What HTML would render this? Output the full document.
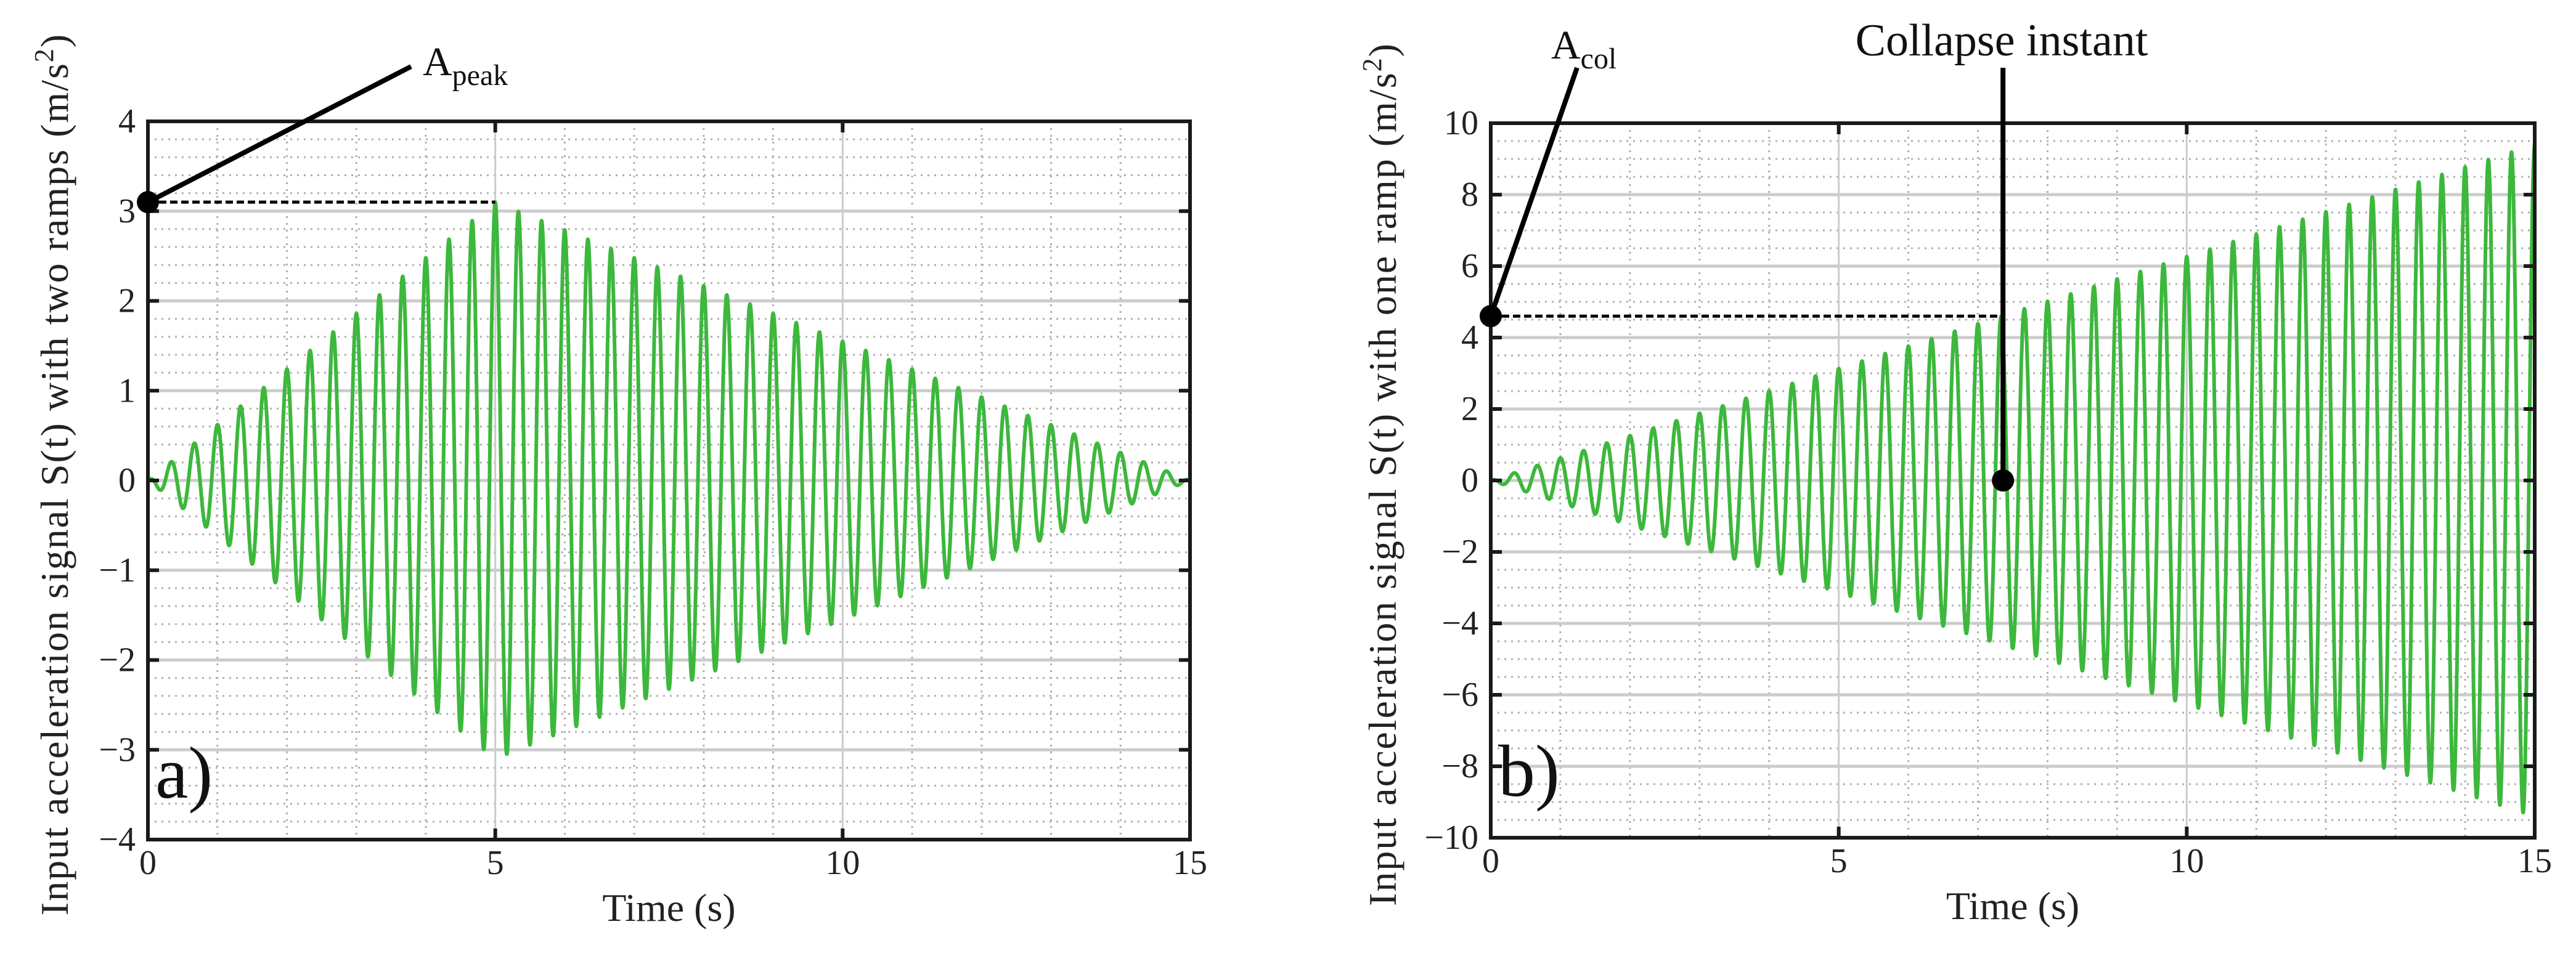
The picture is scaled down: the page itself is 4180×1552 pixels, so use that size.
<!DOCTYPE html>
<html><head><meta charset="utf-8">
<style>
html,body{margin:0;padding:0;background:#fff;}
svg{display:block;font-family:"Liberation Serif",serif;}
</style></head>
<body>
<svg id="fig" width="4180" height="1552" viewBox="0 0 4180 1552" xmlns="http://www.w3.org/2000/svg"></svg>
<script>
// ---- data ----
const freqHz = 3;                       // signal frequency
const envTimesA = [0, 5, 15];           // envelope breakpoints, panel a
const envAmpsA = [0, 3.1, 0];
const envTimesB = [0, 15];              // envelope breakpoints, panel b
const envAmpsB = [0, 9.4];
const xTicks = [0, 5, 10, 15];
const yTicksA = [-4, -3, -2, -1, 0, 1, 2, 3, 4];
const yTicksB = [-10, -8, -6, -4, -2, 0, 2, 4, 6, 8, 10];
const apeak = 3.1, apeakTime = 5;
const acol = 4.6, collapseTime = 7.36;

const NS = 'http://www.w3.org/2000/svg';
const svg = document.getElementById('fig');
function mk(tag, attrs, parent) {
  const e = document.createElementNS(NS, tag);
  for (const k in attrs) e.setAttribute(k, attrs[k]);
  (parent || svg).appendChild(e);
  return e;
}
function envelope(ts, as, t) {
  for (let i = 0; i < ts.length - 1; i++) {
    if (t >= ts[i] && t <= ts[i + 1]) return as[i] + (as[i + 1] - as[i]) * (t - ts[i]) / (ts[i + 1] - ts[i]);
  }
  return 0;
}
function fmt(v) { return v < 0 ? '\u2212' + Math.abs(v) : String(v); }

function panel(cfg) {
  const g = mk('g', {});
  
  
  const X = t => cfg.x0 + (t - 0) / 15 * (cfg.x1 - cfg.x0);
  const Y = v => cfg.y1 - (v - cfg.ymin) / (cfg.ymax - cfg.ymin) * (cfg.y1 - cfg.y0);
  const mg = mk('g', {}, g);
  
  
  for (let v = cfg.ymin; v <= cfg.ymax + 1e-9; v += cfg.minorY) {
    mk('line', {x1: cfg.x0, x2: cfg.x1, y1: Y(v), y2: Y(v), stroke: '#b0b0b0', 'stroke-width': 3, 'stroke-dasharray': '3 8'}, mg);
  }
  for (let t = 1; t < 15; t++) {
    if (t % 5 === 0) continue;
    mk('line', {x1: X(t), x2: X(t), y1: cfg.y0, y2: cfg.y1, stroke: '#b0b0b0', 'stroke-width': 3, 'stroke-dasharray': '3 8'}, mg);
  }
  const gg = mk('g', {}, g);
  
  
  cfg.yTicks.forEach(v => mk('line', {x1: cfg.x0, x2: cfg.x1, y1: Y(v), y2: Y(v), stroke: '#cccccc', 'stroke-width': 5}, gg));
  xTicks.forEach(t => mk('line', {x1: X(t), x2: X(t), y1: cfg.y0, y2: cfg.y1, stroke: '#cccccc', 'stroke-width': 3}, gg));
  let d = '';
  const N = 6000;
  for (let i = 0; i <= N; i++) {
    const t = 15 * i / N;
    const v = envelope(cfg.envT, cfg.envA, t) * Math.cos(2 * Math.PI * freqHz * t);
    d += (i ? 'L' : 'M') + X(t).toFixed(1) + ' ' + Y(v).toFixed(1);
  }
  const p = mk('path', {d: d, fill: 'none', stroke: '#3cb83c', 'stroke-width': 6, 'stroke-linejoin': 'round'}, g);
  
  
  const fr = mk('rect', {x: cfg.x0, y: cfg.y0, width: cfg.x1 - cfg.x0, height: cfg.y1 - cfg.y0, fill: 'none', stroke: '#1a1a1a', 'stroke-width': 6}, g);
  
  
  cfg.yTicks.forEach(v => {
    mk('line', {x1: cfg.x0, x2: cfg.x0 + 18, y1: Y(v), y2: Y(v), stroke: '#1a1a1a', 'stroke-width': 6}, g);
    mk('line', {x1: cfg.x1 - 18, x2: cfg.x1, y1: Y(v), y2: Y(v), stroke: '#1a1a1a', 'stroke-width': 6}, g);
    const tx = mk('text', {x: cfg.x0 - 20, y: Y(v) + 18, 'font-size': 56, 'text-anchor': 'end', fill: '#222'}, g);
    tx.textContent = fmt(v);
    
    
  });
  xTicks.forEach(t => {
    mk('line', {x1: X(t), x2: X(t), y1: cfg.y1, y2: cfg.y1 - 18, stroke: '#1a1a1a', 'stroke-width': 6}, g);
    mk('line', {x1: X(t), x2: X(t), y1: cfg.y0, y2: cfg.y0 + 18, stroke: '#1a1a1a', 'stroke-width': 6}, g);
    const tx = mk('text', {x: X(t), y: cfg.y1 + 56, 'font-size': 56, 'text-anchor': 'middle', fill: '#222'}, g);
    tx.textContent = String(t);
    
    
  });
  const xl = mk('text', {x: (cfg.x0 + cfg.x1) / 2, y: cfg.y1 + 132, 'font-size': 64, 'text-anchor': 'middle', fill: '#222'}, g);
  xl.textContent = 'Time (s)';
  
  
  const yc = (cfg.y0 + cfg.y1) / 2 - 10;
  const yl = mk('text', {x: cfg.ylx, y: yc, 'font-size': 64, 'letter-spacing': 2, 'text-anchor': 'middle', fill: '#222', transform: 'rotate(-90 ' + cfg.ylx + ' ' + yc + ')'}, g);
  yl.innerHTML = cfg.ylabel + ' (m/s<tspan dy="-24" font-size="44">2</tspan><tspan dy="24">)</tspan>';
  
  
  const pl = mk('text', {x: cfg.x0 + 12, y: cfg.y1 - 68, 'font-size': 120, fill: '#111'}, g);
  pl.textContent = cfg.letter;
  
  
  return {X, Y, g};
}

const A = panel({name: 'panel-a', x0: 240, x1: 1931, y0: 197, y1: 1363, ymin: -4, ymax: 4, minorY: 0.2,
  yTicks: yTicksA, envT: envTimesA, envA: envAmpsA, ylx: 110, letter: 'a)',
  ylabel: 'Input acceleration signal S(t) with two ramps'});
const ax = A.X(0), ay = A.Y(apeak);
let e;
e = mk('line', {x1: ax, y1: ay, x2: A.X(apeakTime), y2: ay, stroke: '#000', 'stroke-width': 5, 'stroke-dasharray': '12 6'}, A.g);
 
e = mk('line', {x1: ax, y1: ay, x2: 667, y2: 108, stroke: '#000', 'stroke-width': 8}, A.g);
 
e = mk('circle', {cx: ax, cy: ay, r: 18, fill: '#000'}, A.g);
 
e = mk('text', {x: 686, y: 122, 'font-size': 66, fill: '#111'}, A.g);
e.innerHTML = 'A<tspan dy="16" font-size="48">peak</tspan>';
 

const B = panel({name: 'panel-b', x0: 2419, x1: 4113, y0: 200, y1: 1360, ymin: -10, ymax: 10, minorY: 0.5,
  yTicks: yTicksB, envT: envTimesB, envA: envAmpsB, ylx: 2265, letter: 'b)',
  ylabel: 'Input acceleration signal S(t) with one ramp'});
const bx = B.X(0), by = B.Y(acol), cx = B.X(collapseTime);
e = mk('line', {x1: bx, y1: by, x2: cx - 6, y2: by, stroke: '#000', 'stroke-width': 5, 'stroke-dasharray': '12 6'}, B.g);
 
e = mk('line', {x1: bx, y1: by, x2: 2559, y2: 110, stroke: '#000', 'stroke-width': 8}, B.g);
 
e = mk('circle', {cx: bx, cy: by, r: 18, fill: '#000'}, B.g);
 
e = mk('text', {x: 2517, y: 95, 'font-size': 66, fill: '#111'}, B.g);
e.innerHTML = 'A<tspan dy="16" font-size="48">col</tspan>';
 
e = mk('line', {x1: cx, y1: 110, x2: cx, y2: B.Y(0), stroke: '#000', 'stroke-width': 8}, B.g);
 
e = mk('circle', {cx: cx, cy: B.Y(0), r: 18, fill: '#000'}, B.g);
 
e = mk('text', {x: 3248, y: 90, 'font-size': 74, 'text-anchor': 'middle', fill: '#111'}, B.g);
e.textContent = 'Collapse instant';
 
</script>
</body></html>
